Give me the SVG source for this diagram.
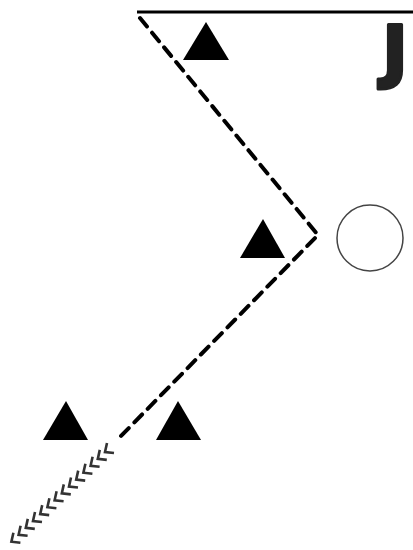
<svg xmlns="http://www.w3.org/2000/svg" width="413" height="550" viewBox="0 0 413 550">
<style>
.tri{fill:#000}
.dash{fill:none;stroke:#000;stroke-width:4;stroke-dasharray:11 8;stroke-linecap:round}
.chev{fill:none;stroke:#333;stroke-width:2.6;stroke-linecap:butt;stroke-linejoin:miter}
</style>
<rect width="413" height="550" fill="#fff"/>
<line x1="137" y1="12" x2="413" y2="12" stroke="#000" stroke-width="3"/>
<text x="382" y="75" font-family="DejaVu Sans, sans-serif" font-weight="bold" font-size="70" fill="#222" stroke="#222" stroke-width="3" stroke-linejoin="round">J</text>
<g id="connectors">
<polyline class="dash" points="140,18 318,235 120,437"/>
<g id="chevrons">
<path class="chev" d="M107,443 l-2,9 l9,1"/>
<path class="chev" d="M99.8,449.9 l-2,9 l9,1"/>
<path class="chev" d="M92.6,456.8 l-2,9 l9,1"/>
<path class="chev" d="M85.4,463.7 l-2,9 l9,1"/>
<path class="chev" d="M78.2,470.6 l-2,9 l9,1"/>
<path class="chev" d="M71,477.5 l-2,9 l9,1"/>
<path class="chev" d="M63.8,484.4 l-2,9 l9,1"/>
<path class="chev" d="M56.6,491.3 l-2,9 l9,1"/>
<path class="chev" d="M49.4,498.2 l-2,9 l9,1"/>
<path class="chev" d="M42.2,505.1 l-2,9 l9,1"/>
<path class="chev" d="M35,512 l-2,9 l9,1"/>
<path class="chev" d="M27.8,518.9 l-2,9 l9,1"/>
<path class="chev" d="M20.6,525.8 l-2,9 l9,1"/>
<path class="chev" d="M13.4,532.7 l-2,9 l9,1"/>
</g>
</g>
<g id="t1"><polygon class="tri" points="206,22 229,60 183,60"/></g>
<g id="t2"><polygon class="tri" points="263,219 285,258 240,258"/></g>
<g id="t3"><polygon class="tri" points="66,401 88,440 43,440"/></g>
<g id="t4"><polygon class="tri" points="178,401 201,440 156,440"/></g>
<g id="ball"><circle cx="370" cy="238" r="33" fill="#fff" stroke="#444" stroke-width="1.5"/></g>
</svg>
